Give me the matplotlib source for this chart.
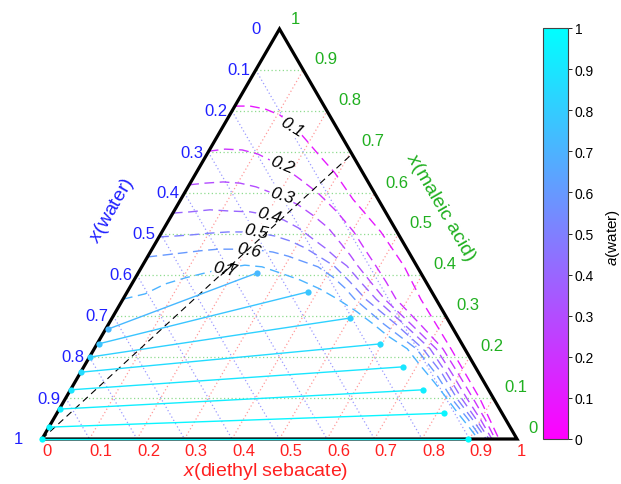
import numpy as np
import matplotlib

matplotlib.use("Agg")
import matplotlib.pyplot as plt
from matplotlib import colors

plt.rcParams["font.family"] = ["Liberation Sans", "DejaVu Sans"]
plt.rcParams["mathtext.fontset"] = "custom"
plt.rcParams["mathtext.it"] = "Liberation Sans:italic"
plt.rcParams["mathtext.rm"] = "Liberation Sans"

# ---- data (mole fractions: x_DES along bottom, x_MA towards top, water = rest) ----
tick_values = [0.0, 0.1, 0.2, 0.3, 0.4, 0.5, 0.6, 0.7, 0.8, 0.9, 1.0]
tick_labels = ["0", "0.1", "0.2", "0.3", "0.4", "0.5", "0.6", "0.7", "0.8", "0.9", "1"]
grid_values = [0.1, 0.2, 0.3, 0.4, 0.5, 0.6, 0.7, 0.8, 0.9]

contour_levels = [0.1, 0.2, 0.3, 0.4, 0.5, 0.6, 0.7]
contour_des = [
    [0.0, .032, .067, .106, .149, .188, .240, .292, .362, .461, .551, .627, .751, .873, .962],
    [0.0, .032, .069, .107, .145, .184, .226, .281, .344, .404, .448, .492, .533, .575, .656,
     .734, .797, .859, .908, .954],
    [0.0, .031, .068, .105, .143, .179, .216, .254, .297, .345, .387, .424, .454, .504, .551,
     .637, .720, .784, .846, .898, .947],
    [0.0, .035, .074, .118, .161, .203, .242, .282, .323, .363, .400, .431, .483, .533, .622,
     .707, .773, .835, .889, .941],
    [0.0, .032, .067, .102, .139, .175, .208, .243, .281, .321, .363, .404, .457, .511, .605,
     .692, .763, .825, .881, .935],
    [0.0, .035, .070, .103, .139, .175, .224, .258, .295, .330, .371, .415, .454, .488, .580,
     .678, .750, .814, .872, .926],
    [0.0, .040, .070, .105, .141, .172, .215, .253, .293, .349, .402, .452, .505, .553, .603,
     .659, .706, .756, .804, .844, .881, .918],
]
contour_ma = [
    [.812, .812, .805, .790, .763, .732, .690, .649, .585, .505, .422, .341, .220, .098, 0.0],
    [.702, .707, .705, .695, .678, .659, .634, .600, .554, .505, .463, .422, .383, .341, .280,
     .220, .159, .098, .049, 0.0],
    [.620, .624, .627, .624, .615, .602, .588, .571, .546, .515, .480, .449, .422, .380, .341,
     .280, .220, .159, .098, .049, 0.0],
    [.551, .554, .559, .556, .554, .546, .534, .515, .490, .466, .441, .422, .380, .341, .280,
     .220, .159, .098, .049, 0.0],
    [.493, .495, .498, .502, .505, .505, .502, .495, .483, .466, .444, .422, .383, .341, .280,
     .220, .159, .098, .049, 0.0],
    [.444, .449, .454, .459, .463, .463, .461, .456, .446, .434, .420, .395, .368, .341, .280,
     .220, .159, .098, .049, 0.0],
    [.341, .354, .378, .393, .405, .415, .424, .420, .407, .388, .366, .341, .312, .283, .251,
     .220, .180, .139, .098, .063, .032, 0.0],
]
contour_label_text = ["0.1", "0.2", "0.3", "0.4", "0.5", "0.6", "0.7"]
contour_label_des = [.145, .170, .208, .205, .197, .205, .178]
contour_label_ma = [.763, .671, .595, .546, .507, .461, .415]
contour_label_rot = [-32, -22, -17, -16, -12, -11, -11]

tie_a = [0.72, 0.77, 0.82, 0.86, 0.90, 0.93, 0.96, 0.995]
tie_des_aq = [.005, .003, .002, .001, .001, .001, .0005, 0.0]
tie_ma_aq = [.268, .232, .200, .163, .120, .073, .029, 0.0]
tie_des_org = [.250, .381, .501, .596, .672, .742, .815, .897]
tie_ma_org = [.405, .359, .295, .232, .176, .120, .063, 0.0]

guide_des = [0.0, 0.305]
guide_ma = [0.0, 0.695]
arrow_tail = (0.175, 0.395)
arrow_tip = (0.193, 0.434)

colorbar_ticks = tick_values
colorbar_labels = tick_labels

SQRT3_2 = np.sqrt(3) / 2
cmap = matplotlib.colormaps["cool_r"]


def to_xy(des, ma):
    des = np.asarray(des, dtype=float)
    ma = np.asarray(ma, dtype=float)
    return des + ma / 2, ma * SQRT3_2


W, H = 621, 485
fig = plt.figure(figsize=(W / 100, H / 100), dpi=100)
ax = fig.add_axes([42 / W, 45 / H, 475 / W, 410 / H])
ax.set_xlim(0, 1)
ax.set_ylim(0, SQRT3_2)
ax.axis("off")

dotted = (0, (1, 2))
for v in grid_values:
    x, y = to_xy([0, 1 - v], [v, v])
    ax.plot(x, y, color="#8fdc8f", ls=dotted, lw=0.9, zorder=1)
    x, y = to_xy([v, v], [0, 1 - v])
    ax.plot(x, y, color="#ff9a9a", ls=dotted, lw=0.9, zorder=1)
    x, y = to_xy([0, 1 - v], [1 - v, 0])
    ax.plot(x, y, color="#9a9aff", ls=dotted, lw=0.9, zorder=1)

for level, des, ma in zip(contour_levels, contour_des, contour_ma):
    x, y = to_xy(des, ma)
    ax.plot(x, y, color=cmap(level), ls=(0, (7, 4)), lw=1.0, zorder=2)

for text, des, ma, rot in zip(contour_label_text, contour_label_des, contour_label_ma,
                              contour_label_rot):
    x, y = to_xy(des, ma)
    ax.text(x, y, text, rotation=rot, rotation_mode="anchor", ha="center", va="center",
            fontsize=12.5, fontstyle="italic", zorder=3,
            bbox=dict(boxstyle="square,pad=0.05", fc="white", ec="none"))

gx, gy = to_xy(guide_des, guide_ma)
ax.plot(gx, gy, color="black", ls=(0, (6, 4)), lw=0.8, zorder=4)
ax.annotate("", xy=to_xy(*arrow_tip), xytext=to_xy(*arrow_tail),
            arrowprops=dict(arrowstyle="->", color="black", lw=0.8), zorder=4)

bx, by = to_xy([0, 1, 0, 0], [0, 0, 1, 0])
ax.plot(bx, by, color="black", lw=2.3, solid_joinstyle="miter", clip_on=False, zorder=5)

for a, d0, m0, d1, m1 in zip(tie_a, tie_des_aq, tie_ma_aq, tie_des_org, tie_ma_org):
    x, y = to_xy([d0, d1], [m0, m1])
    ax.plot(x, y, color=cmap(a), lw=1.0, clip_on=False, zorder=6)
    ax.plot(x, y, "o", color=cmap(a), ms=4.5, mec="none", clip_on=False, zorder=7)

for v, lab in zip(tick_values, tick_labels):
    ax.annotate(lab, xy=to_xy(v, 0), xytext=(0, -12), textcoords="offset pixels",
                ha="left", va="center", color="#ff2020", fontsize=12, annotation_clip=False)
    ax.annotate(lab, xy=to_xy(0, 1 - v), xytext=(-28, 0), textcoords="offset pixels",
                ha="left", va="center", color="#2020ff", fontsize=12, annotation_clip=False)
    ax.annotate(lab, xy=to_xy(1 - v, v), xytext=(11, 11), textcoords="offset pixels",
                ha="left", va="center", color="#20b020", fontsize=12, annotation_clip=False)

fig.text(266 / W, 1 - 472 / H, "$x$(diethyl sebacate)", color="#ff2020", fontsize=14,
         ha="center", va="center")
fig.text(112 / W, 1 - 211 / H, "$x$(water)", color="#2020ff", fontsize=14,
         rotation=60, ha="center", va="center")
fig.text(441 / W, 1 - 208 / H, "$x$(maleic acid)", color="#20b020", fontsize=14,
         rotation=-60, ha="center", va="center")

cax = fig.add_axes([543 / W, 45 / H, 25 / W, 411 / H])
sm = plt.cm.ScalarMappable(norm=colors.Normalize(0, 1), cmap=cmap)
cb = fig.colorbar(sm, cax=cax, ticks=colorbar_ticks)
cb.ax.set_yticklabels(colorbar_labels, fontsize=10)
cb.outline.set_linewidth(0.8)
cb.outline.set_edgecolor("#444444")
cb.ax.tick_params(length=3, width=0.6, direction="out", pad=2)
fig.text(613 / W, 1 - 237 / H, "$a$(water)", fontsize=11, rotation=90,
         ha="center", va="center")

fig.savefig("out.png", dpi=100)
